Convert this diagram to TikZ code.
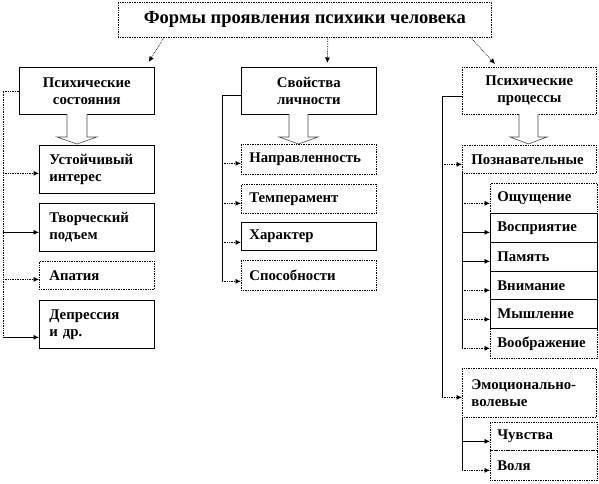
\documentclass[tikz,border=0pt]{standalone}
\usepackage{fontspec}
\setmainfont{Liberation Serif}
\usetikzlibrary{arrows.meta}
\begin{document}
\begin{tikzpicture}[x=1pt,y=-1pt,
  every node/.style={inner sep=0pt},
  bx/.style={draw, line width=0.7pt, anchor=north west, font=\fontsize{14.8}{17}\selectfont\bfseries},
  dt/.style={densely dotted},
  cbox/.style={bx, align=center},
  lbox/.style={bx, align=left},
  ln/.style={line width=0.7pt},
  arr/.style={ln, -{Latex[length=5.5pt,width=5pt]}},
  darr/.style={arr, densely dotted},
  hollow/.style={draw=black!70, fill=white, line width=0.6pt}]
\useasboundingbox (0,0) rectangle (599,483);
% title
\node[cbox, dt, minimum width=373pt, minimum height=35pt, font=\fontsize{18.5}{21}\selectfont\bfseries] (title) at (118,2) {Формы проявления психики человека};
% headers
\node[cbox, minimum width=135pt, minimum height=47pt] (ps) at (19,67) {Психические\\состояния};
\node[cbox, minimum width=135pt, minimum height=47pt] (ps2) at (241,67) {Свойства\\личности};
\node[cbox, dt, minimum width=134pt, minimum height=47pt] (pp) at (462,67) {Психические\\процессы};
% top arrows
\draw[darr] ([xshift=-141pt]title.south) -- ([xshift=-6pt,yshift=5pt]ps.north east);
\draw[darr] ([xshift=23pt]title.south) -- ([xshift=18.5pt,yshift=4pt]ps2.north);
\draw[darr] ([xshift=166pt]title.south) -- ([xshift=33pt,yshift=3pt]pp.north west);
% hollow arrows
\draw[hollow] (67,114) -- (67,137) -- (57,137) -- (77,144) -- (97,137) -- (87,137) -- (87,114);
\draw[hollow] (289,114) -- (289,137) -- (279,137) -- (298.5,144) -- (318,137) -- (308,137) -- (308,114);
\draw[hollow] (519,114) -- (519,137) -- (510,137) -- (528.5,144) -- (547,137) -- (538,137) -- (538,114);
% left column
\node[lbox, text width=95pt, inner xsep=10pt, minimum height=48pt] (ust) at (39,145) {Устойчивый\\интерес};
\node[lbox, text width=95pt, inner xsep=10pt, minimum height=48pt] (tvor) at (39,203) {Творческий\\подъем};
\node[lbox, dt, text width=95pt, inner xsep=10pt, minimum height=28pt] (apat) at (39,261) {Апатия};
\node[lbox, text width=95pt, inner xsep=10pt, minimum height=48pt] (dep) at (39,300) {Депрессия\\и др.};
\coordinate (lx) at (3,0);
\draw[ln, dt] (ps.west) -- (ps.west -| lx) -- ([yshift=-13pt]dep.west -| lx);
\draw[darr] ([yshift=-4pt]ust.west -| lx) -- ([yshift=-4pt]ust.west);
\draw[arr] ([yshift=-5pt]tvor.west -| lx) -- ([yshift=-5pt]tvor.west);
\draw[darr] ([yshift=-4pt]apat.west -| lx) -- ([yshift=-4pt]apat.west);
\draw[arr] ([yshift=-13pt]dep.west -| lx) -- ([yshift=-13pt]dep.west);
% middle column
\node[lbox, dt, text width=119pt, inner xsep=8pt, minimum height=30pt] (nap) at (241,144) {Направленность};
\node[lbox, dt, text width=119pt, inner xsep=8pt, minimum height=29pt] (temp) at (241,184) {Темперамент};
\node[lbox, text width=119pt, inner xsep=8pt, minimum height=28pt] (har) at (241,222) {Характер};
\node[lbox, dt, text width=119pt, inner xsep=8pt, minimum height=30pt] (spos) at (241,260) {Способности};
\coordinate (mx) at (222,0);
\draw[ln] ([yshift=-4pt]ps2.west) -- ([yshift=-4pt]ps2.west -| mx) -- ([yshift=-6pt]spos.west -| mx);
\draw[darr] ([yshift=-4pt]nap.west -| mx) -- ([yshift=-4pt]nap.west);
\draw[darr] ([yshift=-4.5pt]temp.west -| mx) -- ([yshift=-4.5pt]temp.west);
\draw[darr] ([yshift=-6pt]har.west -| mx) -- ([yshift=-6pt]har.west);
\draw[darr] ([yshift=-6pt]spos.west -| mx) -- ([yshift=-6pt]spos.west);
% right column
\node[lbox, dt, text width=116pt, inner xsep=9pt, minimum height=28pt] (pozn) at (462,145) {Познавательные};
\node[lbox, dt, text width=93pt, inner xsep=7pt, minimum height=30pt] (osh) at (490,183) {Ощущение};
\node[lbox, text width=93pt, inner xsep=7pt, minimum height=29pt] (vospr) at (490,213) {Восприятие};
\node[lbox, text width=93pt, inner xsep=7pt, minimum height=29pt] (pam) at (490,242) {Память};
\node[lbox, text width=93pt, inner xsep=7pt, minimum height=28pt] (vnim) at (490,271) {Внимание};
\node[lbox, text width=93pt, inner xsep=7pt, minimum height=29pt] (mysh) at (490,299) {Мышление};
\node[lbox, dt, text width=93pt, inner xsep=7pt, minimum height=30pt] (voob) at (490,328) {Воображение};
\node[lbox, dt, text width=116pt, inner xsep=9pt, minimum height=49pt] (emo) at (462,368) {Эмоционально-\\волевые};
\node[lbox, dt, text width=93pt, inner xsep=7pt, minimum height=28pt] (chuv) at (490,422) {Чувства};
\node[lbox, dt, text width=93pt, inner xsep=7pt, minimum height=30pt] (vol) at (490,450) {Воля};
\coordinate (rx) at (442,0);
\draw[ln] ([yshift=-5pt]pp.west) -- ([yshift=-5pt]pp.west -| rx) -- ([yshift=-4.5pt]emo.west -| rx);
\draw[darr] ([yshift=-5pt]pozn.west -| rx) -- ([yshift=-5pt]pozn.west);
\draw[darr] ([yshift=-4.5pt]emo.west -| rx) -- ([yshift=-4.5pt]emo.west);
\draw[ln] (pozn.south west) -- ([yshift=-5pt]voob.west -| pozn.south west);
\draw[darr] ([yshift=-5pt]osh.west -| pozn.south west) -- ([yshift=-5pt]osh.west);
\draw[arr] ([yshift=-4.5pt]vospr.west -| pozn.south west) -- ([yshift=-4.5pt]vospr.west);
\draw[arr] ([yshift=-4.5pt]pam.west -| pozn.south west) -- ([yshift=-4.5pt]pam.west);
\draw[darr] ([yshift=-5pt]vnim.west -| pozn.south west) -- ([yshift=-5pt]vnim.west);
\draw[darr] ([yshift=-5.5pt]mysh.west -| pozn.south west) -- ([yshift=-5.5pt]mysh.west);
\draw[darr] ([yshift=-5pt]voob.west -| pozn.south west) -- ([yshift=-5pt]voob.west);
\draw[ln] (emo.south west) -- ([yshift=-5pt]vol.west -| emo.south west);
\draw[arr] ([yshift=-5pt]chuv.west -| emo.south west) -- ([yshift=-5pt]chuv.west);
\draw[darr] ([yshift=-5pt]vol.west -| emo.south west) -- ([yshift=-5pt]vol.west);
\end{tikzpicture}
\end{document}
